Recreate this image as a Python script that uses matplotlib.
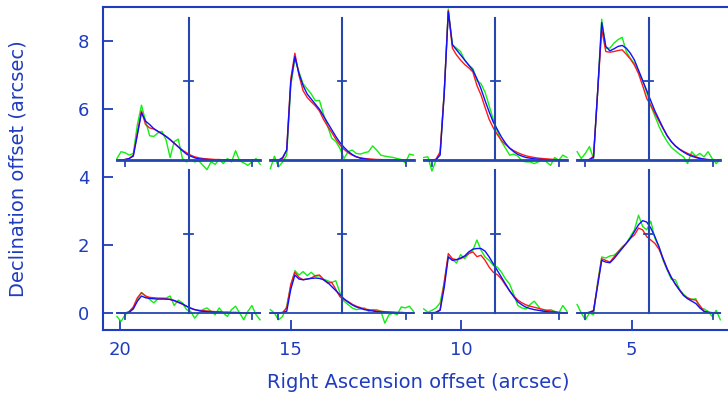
import matplotlib
matplotlib.use("Agg")
import matplotlib.pyplot as plt
import numpy as np

# --- data: spectra in each grid cell (height above the cell baseline, arcsec units) ---
# top row (Dec baseline 4.5), RA centres 18, 13.5, 9, 4.5
obs_t1 = [0.05, 0.25, 0.22, 0.15, 0.20, 1.05, 1.62, 1.15, 0.72, 0.70, 0.80, 0.85,
          0.60, 0.08, 0.55, 0.62, 0.05, -0.05, 0.0, -0.05, -0.02, -0.15, -0.28, -0.05,
          -0.12, 0.02, -0.10, 0.05, -0.05, 0.28, -0.02, -0.08, -0.15, -0.05, 0.05, -0.12]
red_t1 = [0.0, 0.0, 0.02, 0.05, 0.15, 0.80, 1.45, 1.05, 0.95, 0.92, 0.85, 0.78,
          0.70, 0.60, 0.50, 0.40, 0.30, 0.22, 0.15, 0.10, 0.07, 0.05, 0.04, 0.03,
          0.02, 0.02, 0.01, 0.01, 0.0, 0.0, 0.0, 0.0, 0.0, 0.0, 0.0, 0.0]
blue_t1 = [0.0, 0.0, 0.02, 0.05, 0.12, 0.75, 1.40, 1.15, 1.05, 0.93, 0.85, 0.78,
           0.70, 0.61, 0.50, 0.39, 0.28, 0.18, 0.12, 0.07, 0.04, 0.03, 0.02, 0.01,
           0.0, 0.0, 0.0, 0.0, 0.0, 0.0, 0.0, 0.0, 0.0, 0.0, 0.0, 0.0]

obs_t2 = [-0.25, 0.12, -0.20, -0.05, 0.15, 2.20, 3.00, 2.60, 2.25, 2.10, 1.95, 1.75,
          1.76, 1.35, 1.00, 0.65, 0.55, 0.35, 0.05, 0.25, 0.30, 0.20, 0.18, 0.22,
          0.25, 0.42, 0.30, 0.15, 0.12, 0.10, 0.08, 0.05, 0.02, -0.08, 0.18, 0.15]
red_t2 = [0.0, 0.0, 0.0, 0.05, 0.30, 2.40, 3.15, 2.50, 2.05, 1.85, 1.72, 1.60,
          1.45, 1.20, 1.00, 0.82, 0.62, 0.45, 0.32, 0.22, 0.15, 0.10, 0.07, 0.05,
          0.04, 0.03, 0.02, 0.02, 0.01, 0.0, 0.0, 0.0, 0.0, 0.0, 0.0, 0.0]
blue_t2 = [0.0, 0.0, 0.0, 0.08, 0.30, 2.30, 3.05, 2.55, 2.20, 1.95, 1.80, 1.65,
           1.50, 1.30, 1.10, 0.90, 0.70, 0.52, 0.38, 0.26, 0.17, 0.10, 0.06, 0.04,
           0.02, 0.01, 0.0, 0.0, 0.0, 0.0, 0.0, 0.0, 0.0, 0.0, 0.0, 0.0]

obs_t3 = [0.08, 0.10, -0.32, 0.0, 0.20, 2.00, 4.45, 3.40, 3.30, 3.20, 2.95, 2.80,
          2.70, 2.35, 2.25, 2.00, 1.60, 1.20, 0.85, 0.55, 0.35, 0.15, 0.18, 0.12,
          -0.02, -0.05, -0.05, -0.10, -0.05, 0.0, -0.05, -0.15, 0.08, 0.0, 0.15, 0.08]
red_t3 = [0.0, 0.0, 0.0, 0.03, 0.25, 2.00, 4.40, 3.30, 3.10, 2.95, 2.82, 2.72,
          2.60, 2.20, 1.92, 1.55, 1.20, 0.95, 0.75, 0.58, 0.46, 0.36, 0.28, 0.22,
          0.17, 0.13, 0.10, 0.08, 0.06, 0.05, 0.04, 0.03, 0.02, 0.01, 0.0, 0.0]
blue_t3 = [0.0, 0.0, 0.0, 0.02, 0.15, 1.95, 4.38, 3.40, 3.25, 3.10, 2.95, 2.80,
           2.65, 2.40, 2.10, 1.75, 1.42, 1.12, 0.90, 0.68, 0.50, 0.35, 0.25, 0.17,
           0.12, 0.08, 0.06, 0.04, 0.03, 0.02, 0.01, 0.0, 0.0, 0.0, 0.0, 0.0]

obs_t4 = [0.25, 0.05, 0.20, 0.40, 0.05, 2.00, 4.15, 3.30, 3.30, 3.45, 3.55, 3.62,
          3.20, 3.00, 2.85, 2.60, 2.35, 2.00, 1.60, 1.30, 1.00, 0.75, 0.55, 0.38,
          0.28, 0.18, 0.10, -0.10, 0.25, 0.12, 0.20, 0.10, 0.25, 0.05, -0.10, 0.02]
red_t4 = [0.0, 0.0, 0.0, 0.02, 0.12, 2.00, 3.85, 3.20, 3.18, 3.20, 3.23, 3.25,
          3.12, 2.98, 2.80, 2.55, 2.20, 1.82, 1.62, 1.38, 1.15, 0.93, 0.72, 0.55,
          0.42, 0.33, 0.26, 0.20, 0.15, 0.10, 0.06, 0.03, 0.01, 0.0, 0.0, 0.0]
blue_t4 = [0.0, 0.0, 0.0, 0.02, 0.08, 2.00, 4.05, 3.35, 3.22, 3.28, 3.35, 3.38,
           3.30, 3.15, 2.95, 2.65, 2.35, 2.05, 1.75, 1.45, 1.20, 0.95, 0.72, 0.55,
           0.42, 0.32, 0.24, 0.17, 0.12, 0.08, 0.05, 0.03, 0.02, 0.01, 0.0, 0.0]

# bottom row (Dec baseline 0)
obs_b1 = [-0.10, -0.25, -0.05, 0.05, 0.15, 0.40, 0.60, 0.50, 0.40, 0.30, 0.42, 0.44,
          0.44, 0.50, 0.22, 0.38, 0.30, 0.10, 0.05, -0.15, 0.0, 0.10, 0.15, 0.05,
          -0.05, 0.15, 0.0, -0.10, 0.10, 0.20, 0.0, -0.20, 0.05, 0.22, -0.05, -0.20]
red_b1 = [0.0, 0.0, 0.0, 0.04, 0.18, 0.45, 0.60, 0.50, 0.46, 0.45, 0.44, 0.43,
          0.42, 0.40, 0.36, 0.31, 0.26, 0.20, 0.15, 0.10, 0.08, 0.07, 0.06, 0.05,
          0.04, 0.04, 0.03, 0.03, 0.02, 0.02, 0.01, 0.0, 0.0, 0.0, 0.0, 0.0]
blue_b1 = [0.0, 0.0, 0.0, 0.02, 0.12, 0.35, 0.50, 0.45, 0.43, 0.42, 0.41, 0.41,
           0.41, 0.40, 0.37, 0.32, 0.27, 0.20, 0.14, 0.10, 0.07, 0.05, 0.04, 0.03,
           0.02, 0.02, 0.01, 0.0, 0.0, 0.0, 0.0, 0.0, 0.0, 0.0, 0.0, 0.0]

obs_b2 = [0.10, 0.0, -0.20, -0.10, 0.20, 0.80, 1.25, 1.12, 1.22, 1.10, 1.20, 1.08,
          1.10, 1.00, 0.95, 0.90, 0.95, 0.60, 0.35, 0.25, 0.15, 0.10, 0.12, 0.15,
          0.05, 0.10, 0.10, 0.05, -0.30, -0.05, 0.0, -0.05, 0.18, 0.15, 0.20, 0.05]
red_b2 = [0.0, 0.0, 0.0, 0.02, 0.15, 0.85, 1.20, 1.05, 0.98, 1.00, 1.03, 1.10,
          1.12, 0.98, 0.88, 0.90, 0.70, 0.48, 0.40, 0.34, 0.26, 0.20, 0.16, 0.12,
          0.10, 0.08, 0.06, 0.05, 0.04, 0.03, 0.03, 0.02, 0.02, 0.01, 0.0, 0.0]
blue_b2 = [0.0, 0.0, 0.0, 0.01, 0.05, 0.70, 1.12, 1.00, 0.98, 1.00, 1.02, 1.03,
           1.02, 0.98, 0.90, 0.78, 0.66, 0.54, 0.42, 0.32, 0.24, 0.18, 0.14, 0.10,
           0.08, 0.06, 0.04, 0.03, 0.02, 0.02, 0.01, 0.0, 0.0, 0.0, 0.0, 0.0]

obs_b3 = [0.12, 0.02, 0.08, 0.15, 0.30, 0.90, 1.67, 1.58, 1.47, 1.72, 1.60, 1.75,
          1.85, 2.15, 1.85, 1.65, 1.55, 1.40, 1.35, 1.20, 1.00, 0.85, 0.55, 0.22,
          0.15, 0.12, 0.25, 0.35, 0.20, 0.05, 0.08, 0.10, 0.05, 0.0, 0.22, 0.05]
red_b3 = [0.0, 0.0, 0.0, 0.02, 0.10, 0.90, 1.75, 1.60, 1.57, 1.60, 1.66, 1.75,
          1.80, 1.66, 1.70, 1.55, 1.35, 1.20, 1.13, 1.00, 0.82, 0.65, 0.50, 0.38,
          0.30, 0.24, 0.20, 0.17, 0.14, 0.11, 0.08, 0.06, 0.04, 0.02, 0.01, 0.0]
blue_b3 = [0.0, 0.0, 0.0, 0.02, 0.08, 0.75, 1.65, 1.55, 1.57, 1.62, 1.68, 1.80,
           1.88, 1.90, 1.90, 1.82, 1.65, 1.45, 1.25, 1.05, 0.85, 0.65, 0.48, 0.33,
           0.24, 0.17, 0.13, 0.10, 0.08, 0.06, 0.04, 0.03, 0.02, 0.01, 0.0, 0.0]

obs_b4 = [0.25, 0.0, -0.20, 0.0, -0.05, 0.90, 1.65, 1.62, 1.68, 1.70, 1.80, 1.95,
          2.05, 2.25, 2.45, 2.88, 2.55, 2.45, 2.70, 2.20, 1.95, 1.55, 1.27, 1.00,
          0.98, 0.70, 0.55, 0.45, 0.40, 0.42, 0.15, 0.12, 0.05, -0.10, 0.08, -0.20]
red_b4 = [0.0, 0.0, 0.0, 0.02, 0.08, 0.85, 1.60, 1.55, 1.50, 1.65, 1.80, 1.92,
          2.05, 2.20, 2.30, 2.50, 2.45, 2.25, 2.15, 2.05, 1.88, 1.60, 1.30, 1.05,
          0.85, 0.68, 0.52, 0.44, 0.40, 0.38, 0.22, 0.05, 0.02, 0.01, 0.0, 0.0]
blue_b4 = [0.0, 0.0, 0.0, 0.02, 0.06, 0.80, 1.55, 1.50, 1.48, 1.60, 1.75, 1.90,
           2.05, 2.20, 2.40, 2.60, 2.72, 2.68, 2.50, 2.25, 1.95, 1.60, 1.30, 1.05,
           0.85, 0.68, 0.52, 0.42, 0.35, 0.28, 0.15, 0.05, 0.02, 0.01, 0.0, 0.0]

ra_centres = [18.0, 13.5, 9.0, 4.5]
dec_baselines = [4.5, 0.0]
x_ticks = [20, 15, 10, 5]
y_ticks = [0, 2, 4, 6, 8]

panels = [
    (ra_centres[0], dec_baselines[0], obs_t1, red_t1, blue_t1),
    (ra_centres[1], dec_baselines[0], obs_t2, red_t2, blue_t2),
    (ra_centres[2], dec_baselines[0], obs_t3, red_t3, blue_t3),
    (ra_centres[3], dec_baselines[0], obs_t4, red_t4, blue_t4),
    (ra_centres[0], dec_baselines[1], obs_b1, red_b1, blue_b1),
    (ra_centres[1], dec_baselines[1], obs_b2, red_b2, blue_b2),
    (ra_centres[2], dec_baselines[1], obs_b3, red_b3, blue_b3),
    (ra_centres[3], dec_baselines[1], obs_b4, red_b4, blue_b4),
]

# --- styling ---
axis_col = '#1f3cbf'
frame_col = '#2446b0'
half_w = 2.1      # half width of a spectrum cell
cell_h = 4.2      # height of the marker line in a cell
mid_tick = 2.33
edge_tick = 1.87

plt.rcParams['font.family'] = ['DejaVu Sans']

fig = plt.figure(figsize=(7.28, 4.01), dpi=100)
ax = fig.add_axes([103.3 / 728, 1 - 330 / 401, (735 - 103.3) / 728, (330 - 6.7) / 401])
ax.set_xlim(20.5, 1.97)
ax.set_ylim(-0.5, 9.02)

for cx, base, obs, red, blue in panels:
    n = len(obs)
    chan = np.arange(n)
    xs = cx + half_w - chan * (2 * half_w / (n - 1))
    ax.plot(xs, base + np.array(obs), color='#11ee11', lw=1.0, zorder=2)
    ax.plot(xs, base + np.array(red), color='#ff1a1a', lw=1.0, zorder=3)
    ax.plot(xs, base + np.array(blue), color='#1010ff', lw=1.0, zorder=4)

    lw_base = 2.0 if base > 0 else 1.3
    ax.plot([cx + half_w, cx - half_w], [base, base], color=frame_col, lw=lw_base, zorder=5)
    for s in (-1, 1):
        ax.plot([cx + s * edge_tick] * 2, [base, base - 0.18], color=frame_col, lw=1.3, zorder=5)
    ax.plot([cx, cx], [base, base + cell_h], color=frame_col, lw=1.5, zorder=6)
    ax.plot([cx - 0.13, cx + 0.13], [base + mid_tick] * 2, color=frame_col, lw=1.3, zorder=6)

for side in ['left', 'bottom', 'top', 'right']:
    ax.spines[side].set_color(axis_col)
    ax.spines[side].set_linewidth(1.5)

ax.set_xticks(x_ticks)
ax.set_yticks(y_ticks)
ax.tick_params(axis='both', direction='in', length=7, width=1.3, color=axis_col,
               labelcolor=axis_col, labelsize=13)
ax.tick_params(axis='y', pad=10)
ax.tick_params(axis='x', pad=8)

fig.text(418 / 728, 1 - 383 / 401, 'Right Ascension offset (arcsec)', color=axis_col,
         fontsize=14, ha='center', va='center')
fig.text(18 / 728, 1 - 168.5 / 401, 'Declination offset (arcsec)', color=axis_col,
         fontsize=14, ha='center', va='center', rotation=90)

fig.savefig('out.png', dpi=100)
